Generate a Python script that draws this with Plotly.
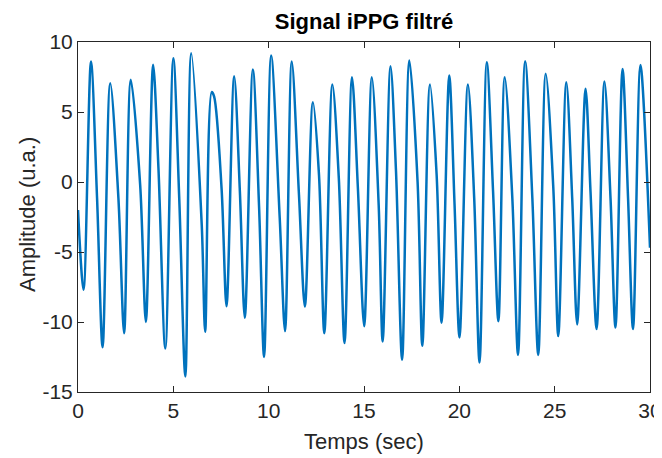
import plotly.graph_objects as go

# Key points (time in s, amplitude in u.a.)
peak_t = [0.68, 1.69, 2.77, 3.94, 5.0, 5.94, 7.01, 8.19, 9.17, 10.13, 11.21, 12.32, 13.34,
          14.37, 15.41, 16.39, 17.38, 18.46, 19.47, 20.45, 21.44, 22.38, 23.45, 24.53,
          25.61, 26.62, 27.61, 28.56, 29.5]
peak_v = [8.6, 7.06, 7.3, 8.37, 8.84, 9.2, 6.42, 7.56, 8.04, 9.03, 8.6, 5.7, 6.97,
          7.49, 7.49, 8.27, 8.68, 6.97, 7.6, 6.97, 8.55, 7.49, 8.63, 7.73,
          7.13, 6.66, 7.18, 8.08, 8.36]
trough_t = [0.29, 1.29, 2.42, 3.56, 4.58, 5.63, 6.67, 7.79, 8.75, 9.76, 10.86, 11.90, 12.92,
            13.98, 15.01, 15.98, 17.0, 18.06, 19.07, 20.01, 21.06, 22.05, 23.08, 24.14,
            25.19, 26.18, 27.2, 28.19, 29.11]
trough_v = [-7.7, -11.8, -10.8, -10.0, -11.9, -13.9, -10.7, -8.87, -9.7, -12.5, -10.65, -8.9, -10.8,
            -11.5, -10.3, -11.4, -12.7, -11.7, -10.05, -11.1, -12.9, -9.94, -12.35, -12.35,
            -11.0, -10.17, -10.5, -10.4, -10.5]
notch_t = [1.0, 2.12, 3.26, 4.22, 5.31, 6.49, 7.53, 8.49, 9.5, 10.58, 11.59, 12.64, 13.68,
           14.68, 15.77, 16.68, 17.81, 18.81, 19.75, 20.78, 21.77, 22.78, 23.83, 24.93,
           25.92, 26.88, 27.93, 28.85]
notch_v = [-1.17, -1.17, -0.2, 0.97, -1.17, -3.06, -0.45, -0.69, -1.88, -2.59, -0.93, 0.5, 0.26,
           -0.45, -1.64, 0.73, 0.02, 0.5, -1.64, -1.17, -0.69, -1.17, -1.17, -0.45,
           -1.17, -0.69, -1.17, -1.17]
bump_t, bump_v = [7.14], [6.1]
start_t, start_v = [0.0], [-2.0]
end_t, end_v = [30.0], [-4.7]

x_ticks = [0, 5, 10, 15, 20, 25, 30]
x_tick_text = ["0", "5", "10", "15", "20", "25", "30"]
y_ticks = [-15, -10, -5, 0, 5, 10]
y_tick_text = ["-15", "-10", "-5", "0", "5", "10"]

pts = sorted(zip(start_t + peak_t + trough_t + notch_t + bump_t + end_t,
                 start_v + peak_v + trough_v + notch_v + bump_v + end_v))
t = [p[0] for p in pts]
v = [p[1] for p in pts]

font = "Liberation Sans, Arial, sans-serif"
# the page body adds an 8 px margin, so the figure is drawn 8 px smaller
OFF = 8
W, H = 662 - OFF, 458 - OFF
L, R, T, B = 78 - OFF, 662 - 650, 42 - OFF, 458 - 392

fig = go.Figure(go.Scatter(x=t, y=v, mode="lines",
                           line=dict(color="#0072BD", width=2.5, shape="spline", smoothing=0.9)))

axis_common = dict(showline=True, linecolor="#262626", linewidth=1, mirror="ticks",
                   ticks="inside", ticklen=6, tickcolor="#262626", showgrid=False,
                   zeroline=False, automargin=False,
                   tickfont=dict(family=font, size=21, color="#262626"))
fig.update_layout(
    width=W, height=H,
    margin=dict(l=L, r=R, t=T, b=B, autoexpand=False),
    plot_bgcolor="white", paper_bgcolor="white",
    showlegend=False,
    title=dict(text="<b>Signal iPPG filtré</b>", x=0.5, xref="paper", xanchor="center",
               y=1 - (21 - OFF) / H, yref="container", yanchor="middle",
               font=dict(family=font, size=22, color="black")),
    xaxis=dict(range=[0, 30], tickvals=x_ticks, ticktext=x_tick_text, **axis_common),
    yaxis=dict(range=[-15, 10], tickvals=y_ticks, ticktext=y_tick_text, **axis_common),
)
pw, ph = W - L - R, H - T - B
fig.add_annotation(text="Temps (sec)", xref="paper", x=0.5, xanchor="center",
                   yref="paper", y=(H - B - (441 - OFF)) / ph, yanchor="middle",
                   showarrow=False, font=dict(family=font, size=22, color="#262626"))
fig.add_annotation(text="Amplitude (u.a.)", xref="paper", x=(27 - OFF - L) / pw,
                   xanchor="center", yref="paper", y=(H - B - (215 - OFF)) / ph,
                   yanchor="middle", textangle=-90,
                   showarrow=False, font=dict(family=font, size=22, color="#262626"))
fig.write_html("out.html")
